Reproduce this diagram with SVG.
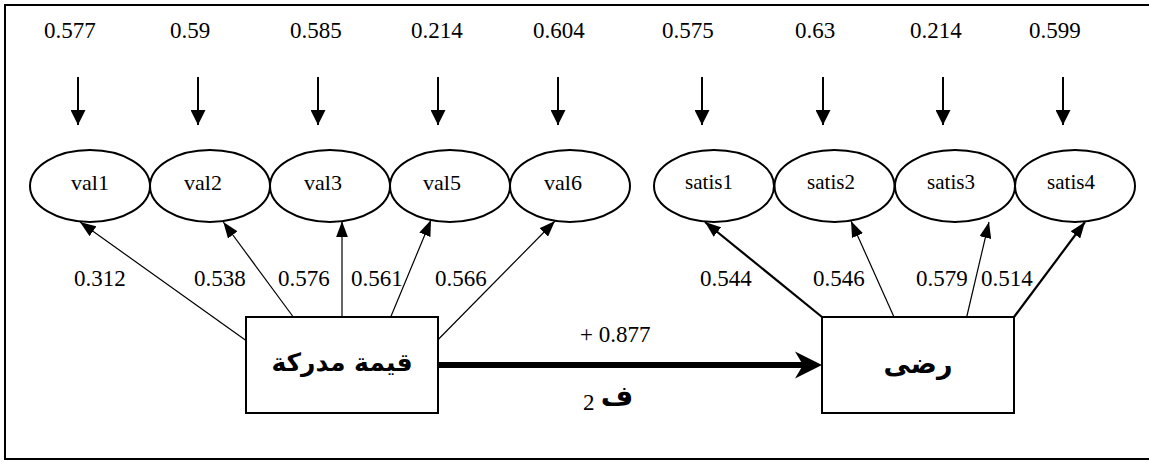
<svg xmlns="http://www.w3.org/2000/svg" width="1149" height="462" viewBox="0 0 1149 462">
  <style>
    .num { font-family: "Liberation Serif", "Times New Roman", Times, "DejaVu Serif", serif; font-size: 23px; fill: #000; }
    .ind { font-family: "Liberation Serif", "Times New Roman", Times, "DejaVu Serif", serif; font-size: 22px; fill: #000; text-anchor: middle; }
    .ind.s { font-size: 21px; }
    .ar { font-family: "DejaVu Sans", sans-serif; font-weight: bold; fill: #000; text-anchor: middle; }
    .ell { fill: #fff; stroke: #000; stroke-width: 2; }
    .box { fill: #fff; stroke: #000; stroke-width: 2; }
    .err { stroke: #000; stroke-width: 2; marker-end: url(#drop); }
    .thin { stroke: #000; stroke-width: 1.2; fill: none; marker-end: url(#head); }
    .thick { stroke: #000; stroke-width: 2.2; fill: none; marker-end: url(#head); }
  </style>
  <defs>
    <marker id="head" viewBox="0 0 16 12" refX="16" refY="6" markerWidth="16" markerHeight="12" markerUnits="userSpaceOnUse" orient="auto">
      <path d="M0,0 L16,6 L0,12 z" fill="#000"/>
    </marker>
    <marker id="drop" viewBox="0 0 15 15" refX="15" refY="7.5" markerWidth="15" markerHeight="15" markerUnits="userSpaceOnUse" orient="auto">
      <path d="M0,0 L15,7.5 L0,15 z" fill="#000"/>
    </marker>
  </defs>

  <!-- frame -->
  <rect x="5" y="5" width="1150" height="454" fill="#fff" stroke="#000" stroke-width="2"/>

  <!-- error terms above the indicators -->
  <g id="errors">
    <text class="num" x="44" y="38">0.577</text>
    <text class="num" x="170" y="38">0.59</text>
    <text class="num" x="290" y="38">0.585</text>
    <text class="num" x="411" y="38">0.214</text>
    <text class="num" x="533" y="38">0.604</text>
    <text class="num" x="662" y="38">0.575</text>
    <text class="num" x="795" y="38">0.63</text>
    <text class="num" x="910" y="38">0.214</text>
    <text class="num" x="1029" y="38">0.599</text>
    <line class="err" x1="78" y1="77" x2="78" y2="125"/>
    <line class="err" x1="198" y1="77" x2="198" y2="125"/>
    <line class="err" x1="318" y1="77" x2="318" y2="125"/>
    <line class="err" x1="438" y1="77" x2="438" y2="125"/>
    <line class="err" x1="558" y1="77" x2="558" y2="125"/>
    <line class="err" x1="702" y1="77" x2="702" y2="125"/>
    <line class="err" x1="823" y1="77" x2="823" y2="125"/>
    <line class="err" x1="943" y1="77" x2="943" y2="125"/>
    <line class="err" x1="1063" y1="77" x2="1063" y2="125"/>
  </g>

  <!-- indicators of perceived value -->
  <g id="val1"><ellipse class="ell" cx="90" cy="186" rx="60" ry="36"/><text class="ind" x="90" y="190">val1</text></g>
  <g id="val2"><ellipse class="ell" cx="210" cy="186" rx="60" ry="36"/><text class="ind" x="203" y="190">val2</text></g>
  <g id="val3"><ellipse class="ell" cx="330" cy="186" rx="60" ry="36"/><text class="ind" x="323" y="190">val3</text></g>
  <g id="val5"><ellipse class="ell" cx="450" cy="186" rx="60" ry="36"/><text class="ind" x="442" y="190">val5</text></g>
  <g id="val6"><ellipse class="ell" cx="570" cy="186" rx="60" ry="36"/><text class="ind" x="563" y="190">val6</text></g>

  <!-- indicators of satisfaction -->
  <g id="satis1"><ellipse class="ell" cx="714" cy="186" rx="60" ry="36"/><text class="ind s" x="709" y="189">satis1</text></g>
  <g id="satis2"><ellipse class="ell" cx="834.5" cy="186" rx="60" ry="36"/><text class="ind s" x="831" y="189">satis2</text></g>
  <g id="satis3"><ellipse class="ell" cx="955" cy="186" rx="60" ry="36"/><text class="ind s" x="951" y="189">satis3</text></g>
  <g id="satis4"><ellipse class="ell" cx="1075" cy="186" rx="60" ry="36"/><text class="ind s" x="1071" y="189">satis4</text></g>

  <!-- latent constructs -->
  <g id="value">
    <rect class="box" x="246" y="317" width="192" height="96"/>
    <text class="ar" x="342" y="371" font-size="25">قيمة مدركة</text>
  </g>
  <g id="satisfaction">
    <rect class="box" x="822" y="317" width="192" height="96"/>
    <text class="ar" x="918" y="373" font-size="27">رضى</text>
  </g>

  <!-- loadings and structural path -->
  <g id="connectors">
    <line class="thin" x1="246" y1="340.5" x2="80" y2="222"/>
    <line class="thin" x1="293.3" y1="317" x2="223.3" y2="222"/>
    <line class="thin" x1="342" y1="317" x2="342" y2="221.3"/>
    <line class="thin" x1="390.7" y1="317" x2="431" y2="220"/>
    <line class="thin" x1="437.7" y1="340" x2="555" y2="221"/>

    <line class="thick" x1="822" y1="317" x2="705" y2="222"/>
    <line class="thin" x1="894" y1="317" x2="851" y2="221"/>
    <line class="thin" x1="966.7" y1="317" x2="989" y2="222"/>
    <line class="thick" x1="1014" y1="317" x2="1085" y2="222"/>

    <line x1="438" y1="365" x2="805" y2="365" stroke="#000" stroke-width="6"/>
    <path d="M822,365 L795,351.5 L803,365 L795,378.5 z" fill="#000"/>

    <text class="num" x="74" y="286">0.312</text>
    <text class="num" x="194" y="286">0.538</text>
    <text class="num" x="278" y="286">0.576</text>
    <text class="num" x="351" y="286">0.561</text>
    <text class="num" x="435" y="286">0.566</text>
    <text class="num" x="700" y="286">0.544</text>
    <text class="num" x="813" y="286">0.546</text>
    <text class="num" x="916" y="286">0.579</text>
    <text class="num" x="981" y="286">0.514</text>

    <text class="num" x="580" y="342">+ 0.877</text>
    <text class="num" x="583" y="410">2</text>
    <text class="ar" x="617" y="405" font-size="28">ف</text>
  </g>
</svg>
